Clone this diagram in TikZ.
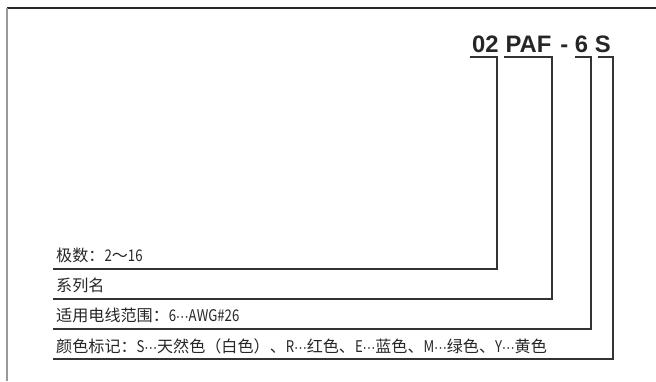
\documentclass[tikz,border=0pt]{standalone}
\usepackage{fontspec}
\setmainfont{Liberation Sans}
\newfontfamily\cjkfont{Noto Sans CJK SC}
\newfontfamily\symfont{DejaVu Sans}
\newcommand{\mydots}{\makebox[12.5pt]{\symfont\fontsize{13}{14}\selectfont ⋯}}
\newcommand{\narrow}[1]{\scalebox{0.82}[1]{#1}}
\begin{document}
\begin{tikzpicture}[x=1pt,y=-1pt,
  code/.style={font=\fontsize{23.8}{26}\selectfont\bfseries, inner sep=0pt, anchor=base west, text=black!85},
  rowtext/.style={font=\cjkfont\fontsize{16.1}{17}\selectfont, inner sep=0pt, anchor=base west, text=black!85},
  lead/.style={draw=black!80, line width=1.1pt},
  frame/.style={line width=1.2pt}]
\useasboundingbox (0,0) rectangle (656,381);
% frame (only top and left edges visible)
\draw[frame, draw=black!85] (7,8) -- (656,8);
\draw[frame, draw=black!40] (7,8) -- (7,381);
% code
\node[code] (n02) at (472,52) {02};
\node[code] (nPAF) at (505.4,52) {PAF};
\node[code] (ndash) at (560.1,52) {-};
\node[code] (n6) at (574.7,52) {6};
\node[code] (nS) at (594.7,52) {S};
% rows
\node[rowtext] (r1) at (56,261.5) {极数：\narrow{2}～\narrow{16}};
\node[rowtext] (r2) at (56,291.5) {系列名};
\node[rowtext] (r3) at (56,321.5) {适用电线范围：\narrow{6}\mydots\narrow{AWG\#26}};
\node[rowtext] (r4) at (56,352) {颜色标记：\narrow{S}\mydots 天然色（白色）、\narrow{R}\mydots 红色、\narrow{E}\mydots 蓝色、\narrow{M}\mydots 绿色、\narrow{Y}\mydots 黄色};
% line endpoints
\coordinate (a1) at (470,57); \coordinate (b1) at (497,57); \coordinate (c1) at (497,269); \coordinate (d1) at (53,269);
\coordinate (a2) at (504,57); \coordinate (b2) at (552,57); \coordinate (c2) at (552,299); \coordinate (d2) at (53,299);
\coordinate (a3) at (575,57); \coordinate (b3) at (591,57); \coordinate (c3) at (591,329); \coordinate (d3) at (53,329);
\coordinate (a4) at (598,57); \coordinate (b4) at (613,57); \coordinate (c4) at (613,359); \coordinate (d4) at (53,359);
\draw[lead] (a1) -- (b1) -- (c1) -- (d1);
\draw[lead] (a2) -- (b2) -- (c2) -- (d2);
\draw[lead] (a3) -- (b3) -- (c3) -- (d3);
\draw[lead] (a4) -- (b4) -- (c4) -- (d4);
\end{tikzpicture}
\end{document}
